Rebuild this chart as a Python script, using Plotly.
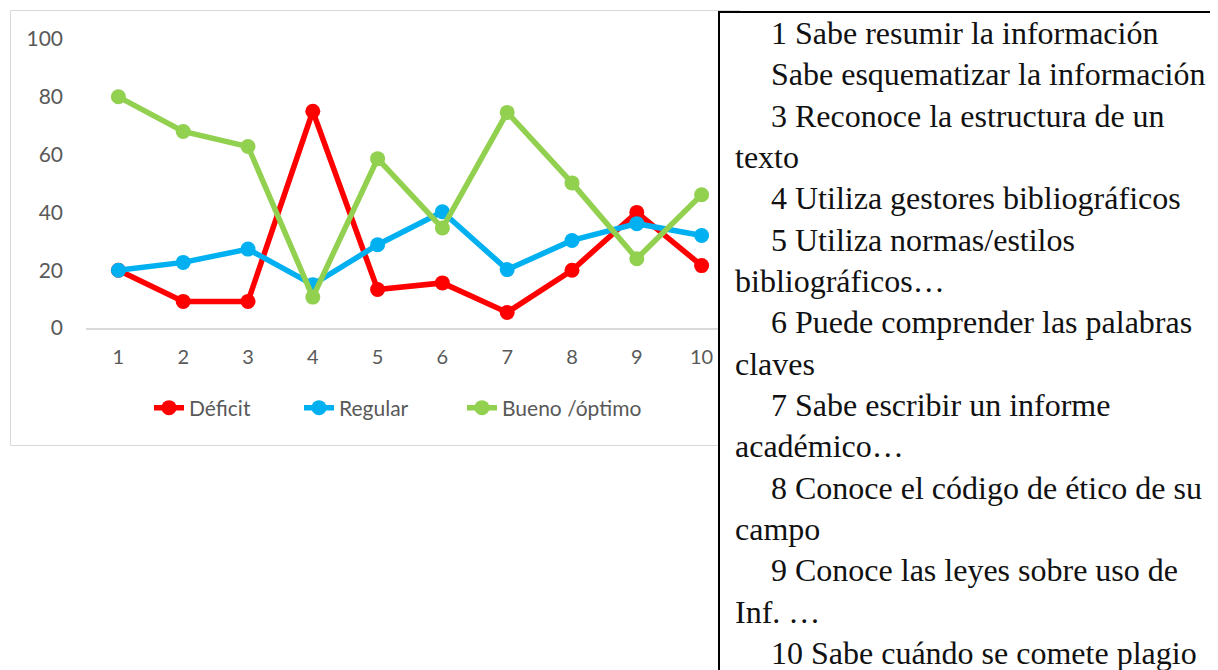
import plotly.graph_objects as go

categories = ["1", "2", "3", "4", "5", "6", "7", "8", "9", "10"]
deficit = [20, 9.2, 9.2, 75, 13.3, 15.6, 5.4, 20, 40, 21.6]
regular = [20, 22.7, 27.3, 15, 28.8, 40.2, 20.2, 30.3, 36.1, 32]
bueno = [80, 68, 62.8, 10.7, 58.6, 34.6, 74.6, 50.2, 24, 46.1]
series_names = ["Déficit", "Regular", "Bueno /óptimo"]
series_colors = ["#FF0000", "#00B0F0", "#92D050"]

box_lines = [
    ("1 Sabe resumir la información", True),
    ("Sabe esquematizar la información", True),
    ("3 Reconoce la estructura de un", True),
    ("texto", False),
    ("4 Utiliza gestores bibliográficos", True),
    ("5 Utiliza normas/estilos", True),
    ("bibliográficos…", False),
    ("6 Puede comprender las palabras", True),
    ("claves", False),
    ("7 Sabe escribir un informe", True),
    ("académico…", False),
    ("8 Conoce el código de ético de su", True),
    ("campo", False),
    ("9 Conoce las leyes sobre uso de", True),
    ("Inf. …", False),
    ("10 Sabe cuándo se comete plagio", True),
]

OFF = 8  # page body margin
W, H = 1218 - OFF, 670 - OFF
L, R, T, B = 86 - OFF, 734 - OFF, 39 - OFF, 328 - OFF


def px(x):
    return (x - OFF - L) / (R - L)


def py(y):
    return (B - (y - OFF)) / (B - T)


legend_ids = ["legend", "legend2", "legend3"]
legend_x = [149, 299, 462]

fig = go.Figure()
for name, vals, col, lid in zip(series_names, [deficit, regular, bueno], series_colors, legend_ids):
    fig.add_trace(go.Scatter(
        x=categories, y=vals, name=name, mode="lines+markers",
        line=dict(color=col, width=5.5),
        marker=dict(color=col, size=15),
        legend=lid,
    ))

shapes = [
    dict(type="rect", xref="paper", yref="paper", x0=px(10.5), x1=px(740), y0=py(445.5), y1=py(10.5),
         line=dict(color="#D9D9D9", width=1), fillcolor="rgba(0,0,0,0)", layer="below"),
    dict(type="rect", xref="paper", yref="paper", x0=px(719), x1=px(1240), y0=py(700), y1=py(12),
         line=dict(color="#000000", width=2), fillcolor="#FFFFFF", layer="above"),
]

annotations = []
for i, (txt, indent) in enumerate(box_lines):
    annotations.append(dict(
        text=txt, xref="paper", yref="paper",
        x=px(769 if indent else 733), y=py(33 + 41.33 * i),
        xanchor="left", yanchor="middle", showarrow=False,
        font=dict(family="Liberation Serif", size=32, color="#111111"),
    ))

legend_style = dict(orientation="h", xanchor="left", y=py(408), yanchor="middle",
                    font=dict(family="Lato", size=21, color="#595959"),
                    bgcolor="rgba(0,0,0,0)")

fig.update_layout(
    width=W, height=H,
    margin=dict(l=L, r=W - R, t=T, b=H - B, pad=0),
    paper_bgcolor="white", plot_bgcolor="white",
    font=dict(family="Lato", size=20, color="#595959"),
    showlegend=True,
    legend=dict(x=px(legend_x[0]), **legend_style),
    legend2=dict(x=px(legend_x[1]), **legend_style),
    legend3=dict(x=px(legend_x[2]), **legend_style),
    xaxis=dict(type="category", range=[-0.5, 9.5], showgrid=False, showline=True,
               linecolor="#D9D9D9", linewidth=1.5, ticks="", ticklabelstandoff=10,
               tickfont=dict(family="Lato", size=20, color="#595959"), zeroline=False),
    yaxis=dict(range=[0, 100], tickvals=[0, 20, 40, 60, 80, 100], showgrid=False,
               showline=False, zeroline=False, ticks="", ticklabelstandoff=22,
               tickfont=dict(family="Lato", size=21, color="#595959")),
    shapes=shapes,
    annotations=annotations,
)

fig.write_html("out.html")
